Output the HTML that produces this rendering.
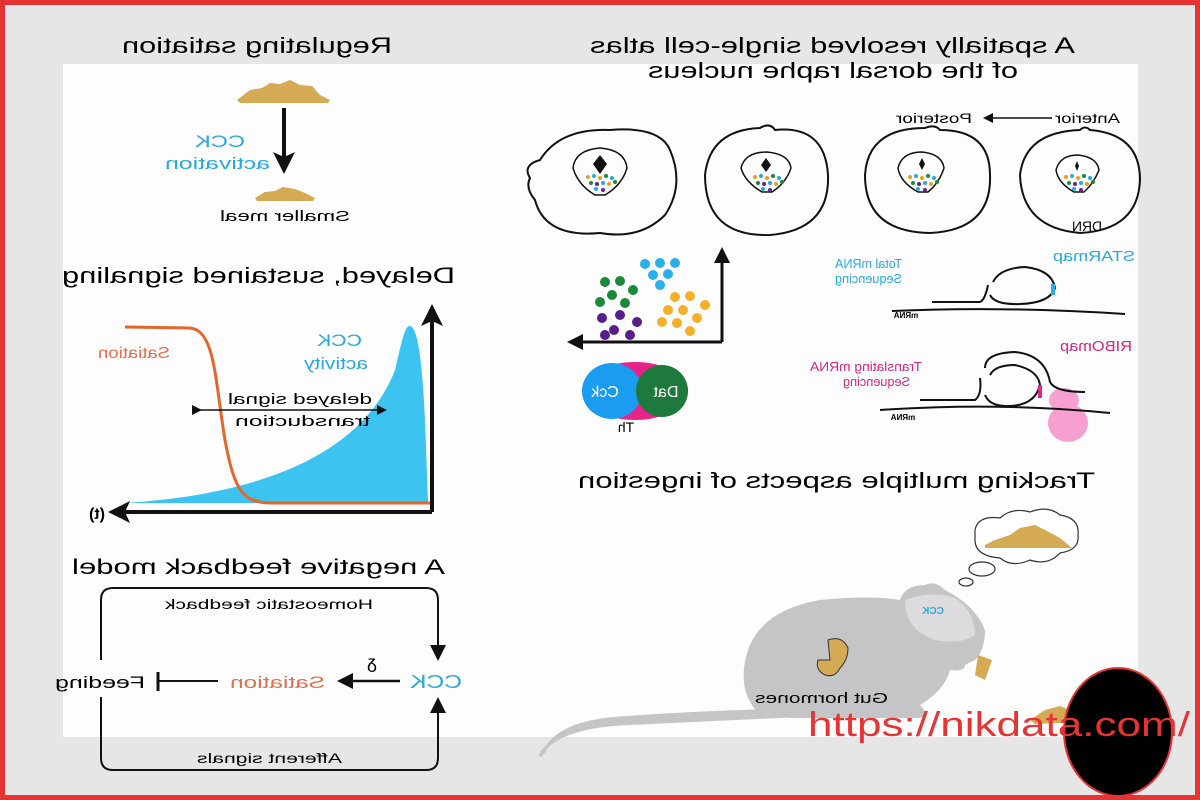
<!DOCTYPE html>
<html><head><meta charset="utf-8"><style>
html,body{margin:0;padding:0;width:1200px;height:800px;overflow:hidden;background:#e6e6e6}
svg{display:block}
text{font-family:"Liberation Sans",Arial,sans-serif}
</style></head><body>
<svg width="1200" height="800" viewBox="0 0 1200 800" xmlns="http://www.w3.org/2000/svg">
<defs>
<marker id="ah" markerWidth="10" markerHeight="10" refX="8" refY="5" orient="auto" markerUnits="userSpaceOnUse"><path d="M0,0 L10,5 L0,10 Z" fill="#111"/></marker>
<marker id="ahb" markerWidth="22" markerHeight="22" refX="18" refY="11" orient="auto" markerUnits="userSpaceOnUse"><path d="M0,0 L22,11 L0,22 L5,11 Z" fill="#111"/></marker>
<marker id="ahm" markerWidth="16" markerHeight="16" refX="13" refY="8" orient="auto" markerUnits="userSpaceOnUse"><path d="M0,0 L16,8 L0,16 Z" fill="#111"/></marker>
</defs>
<rect x="0" y="0" width="1200" height="800" fill="#e6e6e6"/>
<rect x="63" y="64" width="1075" height="673" fill="#fdfdfd"/>
<rect x="2.5" y="2.5" width="1195" height="795" fill="none" stroke="#e63333" stroke-width="5"/>

<!-- Regulating satiation -->
<text transform="scale(-1,1)" x="-392" y="53" font-size="22" textLength="270" lengthAdjust="spacingAndGlyphs">Regulating satiation</text>
<path d="M237,100 L250,90 L262,88 L270,83 L280,84 L290,80 L300,85 L312,86 L320,95 L330,100 L328,103 L240,103 Z" fill="#d4aa55"/>
<line x1="284" y1="108" x2="284" y2="170" stroke="#111" stroke-width="4" marker-end="url(#ahb)"/>
<text transform="scale(-1,1)" x="-245" y="147" font-size="17" fill="#2aa9df" textLength="50" lengthAdjust="spacingAndGlyphs">CCK</text>
<text transform="scale(-1,1)" x="-270" y="169" font-size="17" fill="#2aa9df" textLength="105" lengthAdjust="spacingAndGlyphs">activation</text>
<path d="M255,198 L265,192 L275,191 L283,187 L295,189 L305,193 L315,198 L313,201 L257,201 Z" fill="#d4aa55"/>
<text transform="scale(-1,1)" x="-350" y="221" font-size="15" textLength="130" lengthAdjust="spacingAndGlyphs">Smaller meal</text>

<!-- Delayed, sustained signaling -->
<text transform="scale(-1,1)" x="-455" y="283" font-size="22" textLength="393" lengthAdjust="spacingAndGlyphs">Delayed, sustained signaling</text>
<path d="M125,503 C250,495 360,460 395,370 C402,340 405,325 410,326 C418,328 422,360 425,420 L428,503 Z" fill="#3cc3f0"/>
<path d="M125,327 L190,328 C215,330 215,380 225,440 C235,495 245,502 270,503 L430,503" fill="none" stroke="#e4662a" stroke-width="3"/>
<line x1="432" y1="512" x2="432" y2="308" stroke="#111" stroke-width="4" marker-end="url(#ahb)"/>
<line x1="432" y1="512" x2="112" y2="512" stroke="#111" stroke-width="4" marker-end="url(#ahb)"/>
<text transform="scale(-1,1)" x="-97" y="519" text-anchor="middle" font-size="16" font-weight="bold">(t)</text>
<text transform="scale(-1,1)" x="-170" y="358" font-size="16" fill="#e0704f" textLength="72" lengthAdjust="spacingAndGlyphs">Satiation</text>
<text transform="scale(-1,1)" x="-362" y="346" font-size="17" fill="#2aa9df" textLength="45" lengthAdjust="spacingAndGlyphs">CCK</text>
<text transform="scale(-1,1)" x="-368" y="369" font-size="17" fill="#2aa9df" textLength="64" lengthAdjust="spacingAndGlyphs">activity</text>
<line x1="200" y1="410" x2="385" y2="410" stroke="#111" stroke-width="1.5" marker-end="url(#ah)" marker-start="url(#ah)"/>
<text transform="scale(-1,1)" x="-372" y="404" font-size="15" textLength="144" lengthAdjust="spacingAndGlyphs">delayed signal</text>
<text transform="scale(-1,1)" x="-370" y="426" font-size="15" textLength="135" lengthAdjust="spacingAndGlyphs">transduction</text>

<!-- Negative feedback -->
<text transform="scale(-1,1)" x="-445" y="574" font-size="21" textLength="373" lengthAdjust="spacingAndGlyphs">A negative feedback model</text>
<path d="M101,660 L101,600 Q101,588 113,588 L426,588 Q438,588 438,600 L438,658" fill="none" stroke="#111" stroke-width="2" marker-end="url(#ahm)"/>
<path d="M101,697 L101,758 Q101,770 113,770 L426,770 Q438,770 438,758 L438,700" fill="none" stroke="#111" stroke-width="2" marker-end="url(#ahm)"/>
<text transform="scale(-1,1)" x="-373" y="609" font-size="14" textLength="208" lengthAdjust="spacingAndGlyphs">Homeostatic feedback</text>
<text transform="scale(-1,1)" x="-342" y="763" font-size="14" textLength="145" lengthAdjust="spacingAndGlyphs">Afferent signals</text>
<text transform="scale(-1,1)" x="-462" y="688" font-size="18" fill="#2aa9df" textLength="52" lengthAdjust="spacingAndGlyphs">CCK</text>
<text transform="scale(-1,1)" x="-372" y="672" text-anchor="middle" font-size="18">δ</text>
<line x1="400" y1="681" x2="340" y2="681" stroke="#111" stroke-width="2.5" marker-end="url(#ahm)"/>
<text transform="scale(-1,1)" x="-325" y="688" font-size="17" fill="#e0704f" textLength="95" lengthAdjust="spacingAndGlyphs">Satiation</text>
<line x1="218" y1="681" x2="158" y2="681" stroke="#111" stroke-width="2"/>
<line x1="158" y1="672" x2="158" y2="691" stroke="#111" stroke-width="3"/>
<text transform="scale(-1,1)" x="-145" y="688" font-size="17" textLength="90" lengthAdjust="spacingAndGlyphs">Feeding</text>

<!-- Atlas -->
<text transform="scale(-1,1)" x="-1075" y="53" font-size="22" textLength="485" lengthAdjust="spacingAndGlyphs">A spatially resolved single-cell atlas</text>
<text transform="scale(-1,1)" x="-1018" y="78" font-size="22" textLength="370" lengthAdjust="spacingAndGlyphs">of the dorsal raphe nucleus</text>
<text transform="scale(-1,1)" x="-1120" y="123" font-size="14" textLength="65" lengthAdjust="spacingAndGlyphs">Anterior</text>
<line x1="1052" y1="118" x2="985" y2="118" stroke="#111" stroke-width="1.5" marker-end="url(#ah)"/>
<text transform="scale(-1,1)" x="-972" y="123" font-size="14" textLength="76" lengthAdjust="spacingAndGlyphs">Posterior</text>
<g fill="none" stroke="#111" stroke-width="2">
<path d="M540,160 Q560,128 610,130 Q660,126 670,150 Q685,185 665,215 Q640,240 600,233 Q545,238 535,200 Q525,188 530,178 Q522,165 540,160 Z"/>
<path d="M705,175 Q710,130 760,128 Q770,122 775,130 Q825,125 828,175 Q830,230 770,235 Q705,237 705,175 Z"/>
<path d="M865,175 Q868,128 925,128 Q935,124 940,130 Q990,130 990,175 Q992,230 930,233 Q865,232 865,175 Z"/>
<path d="M1020,175 Q1025,132 1080,130 Q1085,125 1090,130 Q1140,134 1140,180 Q1138,230 1080,233 Q1022,228 1020,175 Z"/>
<path d="M573,168 Q575,150 600,148 Q625,150 627,168 Q622,185 605,195 L595,195 Q578,185 573,168 Z" stroke-width="1.5"/>
<path d="M741,168 Q745,152 767,152 Q789,154 791,168 Q786,183 772,192 L762,192 Q745,182 741,168 Z" stroke-width="1.5"/>
<path d="M898,168 Q902,152 922,152 Q942,154 944,168 Q939,183 928,192 L918,192 Q900,182 898,168 Z" stroke-width="1.5"/>
<path d="M1056,170 Q1060,155 1078,155 Q1097,157 1099,170 Q1094,183 1084,192 L1074,192 Q1058,183 1056,170 Z" stroke-width="1.5"/>
</g>
<path d="M600,155 L607,164 L600,174 L593,164 Z" fill="#111"/>
<path d="M766,158 L771,165 L766,172 L761,165 Z" fill="#111"/>
<path d="M922,158 L925,164 L922,170 L919,164 Z" fill="#111"/>
<path d="M1077,161 L1079,166 L1077,171 L1075,166 Z" fill="#111"/>
<g id="dots1">
<circle cx="588" cy="177" r="2" fill="#e8a020"/><circle cx="594" cy="176" r="2" fill="#2aa9df"/><circle cx="600" cy="178" r="2" fill="#e8a020"/><circle cx="606" cy="176" r="2" fill="#1a8a3a"/><circle cx="612" cy="178" r="2" fill="#2aa9df"/>
<circle cx="591" cy="183" r="2" fill="#1a8a3a"/><circle cx="597" cy="184" r="2" fill="#5a2a8a"/><circle cx="603" cy="183" r="2" fill="#2aa9df"/><circle cx="609" cy="184" r="2" fill="#e8a020"/><circle cx="615" cy="182" r="2" fill="#1a8a3a"/>
<circle cx="596" cy="189" r="2" fill="#2aa9df"/><circle cx="603" cy="190" r="2" fill="#5a2a8a"/>
</g>
<use href="#dots1" x="167" y="0"/>
<use href="#dots1" x="322" y="0"/>
<use href="#dots1" x="478" y="0"/>
<text transform="scale(-1,1)" x="-1102" y="231" font-size="14" textLength="30" lengthAdjust="spacingAndGlyphs">DRN</text>

<!-- scatter -->
<line x1="722" y1="342" x2="722" y2="250" stroke="#111" stroke-width="3" marker-end="url(#ahm)"/>
<line x1="722" y1="342" x2="570" y2="342" stroke="#111" stroke-width="3" marker-end="url(#ahm)"/>
<g fill="#2ab0e8"><circle cx="645" cy="264" r="5"/><circle cx="660" cy="263" r="5"/><circle cx="675" cy="263" r="5"/><circle cx="653" cy="275" r="5"/><circle cx="668" cy="274" r="5"/><circle cx="660" cy="285" r="5"/></g>
<g fill="#1a8a3a"><circle cx="605" cy="282" r="5"/><circle cx="620" cy="281" r="5"/><circle cx="633" cy="290" r="5"/><circle cx="612" cy="295" r="5"/><circle cx="600" cy="302" r="5"/><circle cx="625" cy="303" r="5"/></g>
<g fill="#f5b02a"><circle cx="675" cy="297" r="5"/><circle cx="690" cy="296" r="5"/><circle cx="705" cy="305" r="5"/><circle cx="668" cy="310" r="5"/><circle cx="683" cy="310" r="5"/><circle cx="697" cy="318" r="5"/><circle cx="662" cy="322" r="5"/><circle cx="677" cy="323" r="5"/><circle cx="690" cy="331" r="5"/></g>
<g fill="#5a1e8a"><circle cx="602" cy="318" r="5"/><circle cx="620" cy="315" r="5"/><circle cx="637" cy="322" r="5"/><circle cx="614" cy="330" r="5"/><circle cx="630" cy="335" r="5"/><circle cx="605" cy="335" r="5"/></g>

<!-- venn -->
<ellipse cx="635" cy="391" rx="53" ry="29" fill="#e8238a"/>
<ellipse cx="612" cy="391" rx="30" ry="28" fill="#1a9cf0"/>
<ellipse cx="662" cy="391" rx="26" ry="26" fill="#1e7a3c"/>
<text transform="scale(-1,1)" x="-605" y="397" text-anchor="middle" font-size="16" fill="#fff">Cck</text>
<text transform="scale(-1,1)" x="-666" y="397" text-anchor="middle" font-size="16" fill="#fff">Dat</text>
<text transform="scale(-1,1)" x="-626" y="432" text-anchor="middle" font-size="14">Th</text>

<!-- STARmap -->
<text transform="scale(-1,1)" x="-1135" y="261" font-size="15" fill="#2aa9df" textLength="82" lengthAdjust="spacingAndGlyphs">STARmap</text>
<text transform="scale(-1,1)" x="-902" y="268" font-size="13" fill="#2aa9df" textLength="67" lengthAdjust="spacingAndGlyphs">Total mRNA</text>
<text transform="scale(-1,1)" x="-902" y="283" font-size="13" fill="#2aa9df" textLength="67" lengthAdjust="spacingAndGlyphs">Sequencing</text>
<g fill="none" stroke="#111" stroke-width="2">
<path d="M892,311 Q1000,306 1125,314"/>
<path d="M932,302 L980,302 Q985,300 988,285 M990,295 Q995,305 1020,304 Q1050,303 1055,288 Q1052,270 1025,267 Q1000,268 993,282"/>
</g>
<line x1="1053" y1="284" x2="1053" y2="295" stroke="#2ab0e8" stroke-width="4"/>
<text transform="scale(-1,1)" x="-906" y="318" text-anchor="middle" font-size="8" font-weight="bold">mRNA</text>

<!-- RIBOmap -->
<text transform="scale(-1,1)" x="-1132" y="351" font-size="15" fill="#d4277f" textLength="72" lengthAdjust="spacingAndGlyphs">RIBOmap</text>
<text transform="scale(-1,1)" x="-922" y="371" font-size="13" fill="#d4277f" textLength="112" lengthAdjust="spacingAndGlyphs">Translating mRNA</text>
<text transform="scale(-1,1)" x="-910" y="386" font-size="13" fill="#d4277f" textLength="67" lengthAdjust="spacingAndGlyphs">Sequencing</text>
<ellipse cx="1068" cy="423" rx="20" ry="19" fill="#f7a0d0"/>
<ellipse cx="1064" cy="400" rx="15" ry="12" fill="#f7a0d0"/>
<g fill="none" stroke="#111" stroke-width="2">
<path d="M880,410 Q1000,402 1110,413"/>
<path d="M920,400 L975,400 Q982,395 980,378 M985,395 Q990,407 1010,406 Q1035,405 1040,385 Q1038,370 1015,365 Q995,365 990,375"/>
<path d="M985,368 Q985,353 1015,352 Q1045,355 1050,382 Q1055,392 1085,392"/>
</g>
<line x1="1040" y1="385" x2="1040" y2="398" stroke="#e8238a" stroke-width="4"/>
<text transform="scale(-1,1)" x="-903" y="420" text-anchor="middle" font-size="8" font-weight="bold">mRNA</text>

<!-- Tracking -->
<text transform="scale(-1,1)" x="-1095" y="488" font-size="22" textLength="517" lengthAdjust="spacingAndGlyphs">Tracking multiple aspects of ingestion</text>
<path d="M975,530 Q978,515 1000,518 Q1012,507 1030,512 Q1048,505 1060,515 Q1080,518 1078,535 Q1080,550 1060,553 Q1048,566 1030,560 Q1012,568 1000,558 Q975,556 975,540 Z" fill="#fff" stroke="#333" stroke-width="1.2"/>
<path d="M985,545 L995,540 L1010,535 L1020,528 L1035,525 L1045,530 L1060,538 L1072,548 L985,548 Z" fill="#d4aa55"/>
<ellipse cx="982" cy="569" rx="13" ry="7" fill="#fff" stroke="#333" stroke-width="1.2"/>
<ellipse cx="966" cy="582" rx="7" ry="4" fill="#fff" stroke="#333" stroke-width="1.2"/>
<!-- mouse -->
<path d="M760,715 Q735,690 748,650 Q762,610 820,600 Q870,595 900,600 Q905,585 925,585 Q935,580 945,590 Q975,605 985,630 Q985,650 975,660 L965,665 Q965,672 950,670 Q945,690 920,705 Q930,715 920,718 L790,718 Z" fill="#c5c5c7"/>
<path d="M790,710 Q700,712 620,718 Q560,722 545,750 Q538,760 542,752 Q560,728 620,724 Q700,720 790,716 Z" fill="#c5c5c7" stroke="#c5c5c7" stroke-width="3"/>
<path d="M905,600 Q930,590 955,598 Q975,612 975,635 Q960,645 935,640 Q905,630 905,600 Z" fill="#dcdcde"/>
<text transform="scale(-1,1)" x="-933" y="614" text-anchor="middle" font-size="10" font-weight="bold" fill="#2aa9df">CCK</text>
<path d="M828,640 Q842,635 848,648 Q848,660 840,668 Q835,678 825,675 Q815,670 818,660 L830,660 Z" fill="#d4aa55" stroke="#333" stroke-width="1"/>
<path d="M978,655 L992,660 L985,680 L975,675 Z" fill="#d4aa55"/>
<text transform="scale(-1,1)" x="-888" y="703" font-size="15" textLength="133" lengthAdjust="spacingAndGlyphs">Gut hormones</text>
<path d="M1030,720 L1045,710 L1060,706 L1075,712 L1080,722 L1035,724 Z" fill="#d4aa55"/>

<!-- watermark -->
<ellipse cx="1118" cy="732" rx="54" ry="64" fill="#000" stroke="#e63333" stroke-width="2"/>
<text x="808" y="736" font-family="DejaVu Sans, sans-serif" font-size="34" fill="#e63333" textLength="382" lengthAdjust="spacingAndGlyphs">https://nikdata.com/</text>
</svg>
</body></html>
